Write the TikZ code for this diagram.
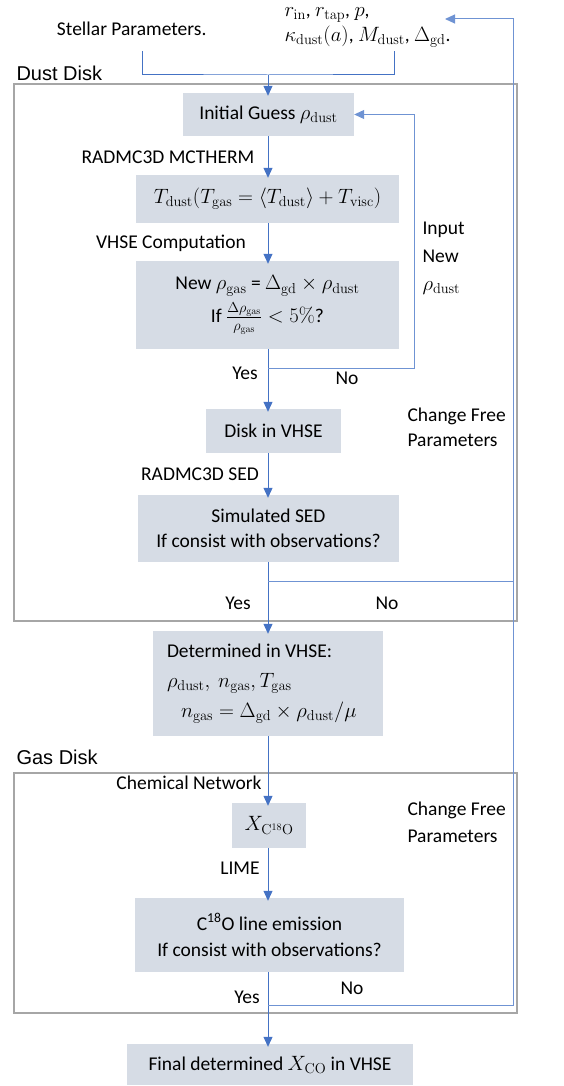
\documentclass[tikz,border=0pt]{standalone}
\usepackage{amsmath,amssymb}
\usepackage[no-math]{fontspec}
\setmainfont{Carlito}
\newfontfamily\arialfont{Liberation Sans}
\usepackage{xcolor}
\usetikzlibrary{positioning,calc,arrows.meta}
\definecolor{boxfill}{HTML}{D6DCE5}
\definecolor{flowblue}{HTML}{4472C4}
\definecolor{loopblue}{HTML}{6F93D3}
\definecolor{framegray}{HTML}{A6A6A6}

\begin{document}
\begin{tikzpicture}[x=1pt,y=-1pt,
    every node/.style={font=\fontsize{19.5}{24}\selectfont},
    stage/.style={fill=boxfill, inner sep=0pt, align=center},
    flow/.style={draw=flowblue, line width=1pt, -{Triangle[width=9pt,length=10pt]}, shorten >=-3pt},
    link/.style={draw=flowblue, line width=1pt},
    loopline/.style={draw=loopblue, line width=1pt},
    disk/.style={draw=framegray, line width=1.6pt},
    disklabel/.style={anchor=west, font=\arialfont\fontsize{20}{24}\selectfont},
    note/.style={anchor=west, align=left}]
    \useasboundingbox (0,0) rectangle (563,1086);

    % inputs
    \node (stellar) at (131.7,29) {Stellar Parameters.};
    \node[note, inner ysep=1pt, font=\fontsize{19.5}{25}\selectfont] (params) at (281,27) {$r_{\mathrm{in}}$, $r_{\mathrm{tap}}$, $p$,\\ $\kappa_{\mathrm{dust}}(a)$, $M_{\mathrm{dust}}$, $\Delta_{\mathrm{gd}}$.};
    \coordinate (sp) at (142.7,51);
    \coordinate (pp) at (394,51);
    \coordinate (merge) at (268,75);
    \coordinate (pin) at (445,19);

    % dust disk
    \draw[disk] (14,84) rectangle (517,621);
    \node[disklabel] (dustlbl) at (13,73) {Dust Disk};
    \node[stage, minimum width=171, minimum height=43] (init) at (268.5,114.5) {Initial Guess $\rho_{\mathrm{dust}}$};
    \node[stage, minimum width=263, minimum height=48] (tdust) at (267.5,199) {$T_{\mathrm{dust}}(T_{\mathrm{gas}}=\langle T_{\mathrm{dust}}\rangle+T_{\mathrm{visc}})$};
    \node[stage, minimum width=263, minimum height=88, font=\fontsize{19.5}{33}\selectfont] (newgas) at (267.5,305) {New $\rho_{\mathrm{gas}}$ = $\Delta_{\mathrm{gd}}\times\rho_{\mathrm{dust}}$\\ If $\frac{\Delta\rho_{\mathrm{gas}}}{\rho_{\mathrm{gas}}}<5\%$?};
    \node[stage, minimum width=135, minimum height=44] (vhse) at (273.5,431) {Disk in VHSE};
    \node[stage, minimum width=261, minimum height=67, font=\fontsize{19.5}{25}\selectfont] (sed) at (268.5,528.5) {Simulated SED\\ If consist with observations?};

    \node at (168,157) {RADMC3D MCTHERM};
    \node at (171,243) {VHSE Computation};
    \node[note, font=\fontsize{19.5}{28}\selectfont] at (419,258) {Input\\ New\\ $\rho_{\mathrm{dust}}$};
    \node at (245,373) {Yes};
    \node at (347,378) {No};
    \node[note, font=\fontsize{19.5}{25}\selectfont] at (404,427.5) {Change Free\\ Parameters};
    \node at (200,474) {RADMC3D SED};
    \node at (238,603) {Yes};
    \node at (387,603) {No};

    % determined state
    \node[stage, minimum width=230, minimum height=105, text width=202, align=flush left, inner xsep=14, font=\fontsize{19.5}{30}\selectfont] (det) at (268,683.5) {Determined in VHSE:\\ $\rho_{\mathrm{dust}},\ n_{\mathrm{gas}}, T_{\mathrm{gas}}$\\ \hspace*{14pt}$n_{\mathrm{gas}}=\Delta_{\mathrm{gd}}\times\rho_{\mathrm{dust}}/\mu$};

    % gas disk
    \draw[disk] (14,773) rectangle (517,1013);
    \node[disklabel] (gaslbl) at (13,757) {Gas Disk};
    \node[stage, minimum width=74, minimum height=45] (xc18o) at (269,825.5) {$X_{\mathrm{C^{18}O}}$};
    \node[stage, minimum width=269, minimum height=74, font=\fontsize{19.5}{26}\selectfont] (line) at (269.5,935) {C\textsuperscript{18}O line emission\\ If consist with observations?};
    \node[stage, minimum width=286, minimum height=41] (final) at (270,1064.5) {Final determined $X_{\mathrm{CO}}$ in VHSE};

    \node at (189,783) {Chemical Network};
    \node[note, font=\fontsize{19.5}{27}\selectfont] at (404,822.5) {Change Free\\ Parameters};
    \node at (240,868) {LIME};
    \node at (247,997) {Yes};
    \node at (352,988) {No};

    % main flow
    \draw[link] (sp) |- (merge) -| (pp);
    \draw[flow] (merge) -- (merge |- init.north);
    \draw[flow] (merge |- init.south) -- (merge |- tdust.north);
    \draw[flow] (merge |- tdust.south) -- (merge |- newgas.north);
    \draw[flow] (merge |- newgas.south) -- (merge |- vhse.north);
    \draw[flow] (merge |- vhse.south) -- (merge |- sed.north);
    \draw[flow] (merge |- sed.south) -- (merge |- det.north);
    \draw[flow] (merge |- det.south) -- (merge |- xc18o.north);
    \draw[flow] (merge |- xc18o.south) -- (merge |- line.north);
    \draw[flow] (merge |- line.south) -- (merge |- final.north);

    % feedback loops
    \draw[loopline, -{Triangle[width=9pt,length=10pt]}] (268,368) -- (414,368) |- (init.east); % new density
    \draw[loopline, -{Triangle[width=9pt,length=10pt]}] (268,581.7) -- (513,581.7) |- (pin); % SED mismatch
    \draw[loopline] (268,1005) -| (513,581.7); % line mismatch
\end{tikzpicture}
\end{document}
